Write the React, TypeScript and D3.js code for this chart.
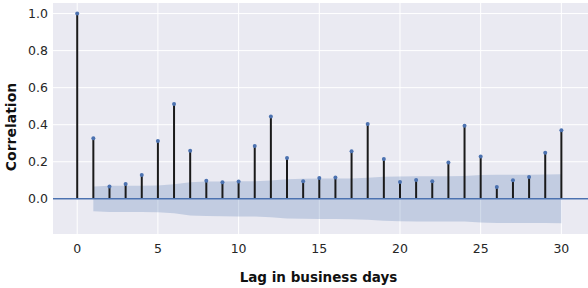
import { useEffect, useRef } from "react";
import * as d3 from "d3";

// autocorrelation values, lags 0..30
const lags: number[] = d3.range(0, 31);
const acfValues: number[] = [
  1.0, 0.327, 0.066, 0.08, 0.129, 0.312, 0.512, 0.26, 0.098, 0.089, 0.093,
  0.285, 0.444, 0.22, 0.095, 0.112, 0.115, 0.257, 0.404, 0.215, 0.091, 0.102,
  0.095, 0.196, 0.394, 0.228, 0.064, 0.1, 0.118, 0.248, 0.37,
];

// half-width of the confidence band, lags 1..30
const bandLags: number[] = d3.range(1, 31);
const bandValues: number[] = [
  0.067, 0.071, 0.071, 0.071, 0.072, 0.078, 0.09, 0.093, 0.094, 0.095, 0.095,
  0.099, 0.106, 0.108, 0.109, 0.109, 0.11, 0.113, 0.119, 0.121, 0.122, 0.122,
  0.122, 0.123, 0.128, 0.13, 0.13, 0.13, 0.131, 0.132,
];

const xTicks = [0, 5, 10, 15, 20, 25, 30];
const yTicks = [0.0, 0.2, 0.4, 0.6, 0.8, 1.0];

export default function App() {
  const svgRef = useRef<SVGSVGElement | null>(null);

  useEffect(() => {
    document.body.style.margin = "0";
    if (!svgRef.current) return;

    const W = 588;
    const H = 288;
    const left = 53;
    const right = 588;
    const top = 3;
    const bottom = 234;

    const svg = d3.select(svgRef.current);
    svg.selectAll("*").remove();

    const x = d3.scaleLinear().domain([-1.5, 31.65]).range([left, right]);
    const y = d3.scaleLinear().domain([-0.19, 1.057]).range([bottom, top]);

    const font = "'DejaVu Sans', Verdana, sans-serif";
    const textColor = "#262626";
    const blue = "#4c72b0";

    svg.attr("width", W).attr("height", H);

    // plot background
    svg
      .append("rect")
      .attr("x", left)
      .attr("y", top)
      .attr("width", right - left)
      .attr("height", bottom - top)
      .attr("fill", "#eaeaf2");

    // grid
    const grid = svg.append("g").attr("stroke", "#ffffff").attr("stroke-width", 1);
    xTicks.forEach((t) => {
      grid
        .append("line")
        .attr("x1", x(t))
        .attr("x2", x(t))
        .attr("y1", top)
        .attr("y2", bottom);
    });
    yTicks.forEach((t) => {
      grid
        .append("line")
        .attr("x1", left)
        .attr("x2", right)
        .attr("y1", y(t))
        .attr("y2", y(t));
    });

    // confidence band
    const area = d3
      .area<number>()
      .x((_, i) => x(bandLags[i]))
      .y0((d) => y(-d))
      .y1((d) => y(d));

    svg
      .append("path")
      .datum(bandValues)
      .attr("d", area)
      .attr("fill", blue)
      .attr("fill-opacity", 0.25);

    // stems
    svg
      .append("g")
      .selectAll("line")
      .data(acfValues)
      .enter()
      .append("line")
      .attr("x1", (_, i) => x(lags[i]))
      .attr("x2", (_, i) => x(lags[i]))
      .attr("y1", y(0))
      .attr("y2", (d) => y(d))
      .attr("stroke", "#1a1a1a")
      .attr("stroke-width", 2);

    // zero line
    svg
      .append("line")
      .attr("x1", left)
      .attr("x2", right)
      .attr("y1", y(0))
      .attr("y2", y(0))
      .attr("stroke", blue)
      .attr("stroke-width", 1.5);

    // markers
    svg
      .append("g")
      .selectAll("circle")
      .data(acfValues)
      .enter()
      .append("circle")
      .attr("cx", (_, i) => x(lags[i]))
      .attr("cy", (d) => y(d))
      .attr("r", 2)
      .attr("fill", blue);

    // tick labels
    svg
      .append("g")
      .selectAll("text")
      .data(xTicks)
      .enter()
      .append("text")
      .attr("x", (d) => x(d))
      .attr("y", 253)
      .attr("text-anchor", "middle")
      .attr("font-family", font)
      .attr("font-size", 12.5)
      .attr("fill", textColor)
      .text((d) => String(d));

    svg
      .append("g")
      .selectAll("text")
      .data(yTicks)
      .enter()
      .append("text")
      .attr("x", 48)
      .attr("y", (d) => y(d) + 4.5)
      .attr("text-anchor", "end")
      .attr("font-family", font)
      .attr("font-size", 12.5)
      .attr("fill", textColor)
      .text((d) => d.toFixed(1));

    // axis titles
    svg
      .append("text")
      .attr("x", (left + right) / 2 - 2)
      .attr("y", 282)
      .attr("text-anchor", "middle")
      .attr("font-family", font)
      .attr("font-size", 13.5)
      .attr("font-weight", "bold")
      .attr("fill", "#111")
      .text("Lag in business days");

    svg
      .append("text")
      .attr("transform", `translate(15.5,${127}) rotate(-90)`)
      .attr("text-anchor", "middle")
      .attr("font-family", font)
      .attr("font-size", 14)
      .attr("font-weight", "bold")
      .attr("fill", "#111")
      .text("Correlation");
  }, []);

  return <svg ref={svgRef}></svg>;
}
